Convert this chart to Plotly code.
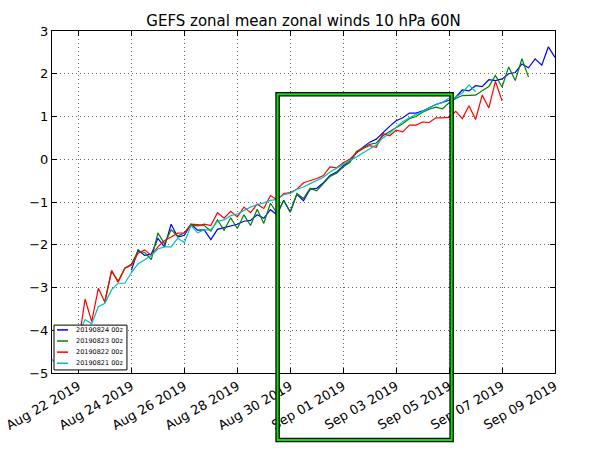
"""GEFS zonal mean zonal winds at 10 hPa / 60N, four forecast runs (6-hourly)."""
import pandas as pd
import plotly.graph_objects as go

# ── Data (6-hourly steps) ────────────────────────────────────────────────────
run_labels = ["20190824 00z", "20190823 00z", "20190822 00z", "20190821 00z"]
run_starts = ["2019-08-24", "2019-08-23", "2019-08-22", "2019-08-21"]
run_colors = ["#0000ff", "#008000", "#ff0000", "#00bfbf"]

u_0824 = [
    -2.6, -2.12, -2.25, -2.22, -1.85, -2.05, -1.52, -1.82, -1.78, -1.52, -1.66, -1.65, -1.88,
    -1.64, -1.6, -1.56, -1.52, -1.45, -1.43, -1.3, -1.38, -1.18, -1.3, -0.96, -1.23,
    -0.82, -0.97, -0.7, -0.68, -0.55, -0.38, -0.3, -0.15, -0.05, 0.15, 0.28, 0.4,
    0.47, 0.63, 0.77, 0.9, 0.97, 1.08, 1.08, 1.13, 1.2, 1.28, 1.33, 1.38,
    1.45, 1.62, 1.6, 1.72, 1.7, 1.86, 1.84, 1.88, 2.0, 2.03, 2.23, 2.14,
    2.35, 2.2, 2.63, 2.38,
]
u_0823 = [
    -3.3, -2.62, -2.85, -2.55, -2.45, -2.15, -2.18, -2.35, -1.72, -1.98, -1.65, -1.8, -1.72,
    -1.52, -1.53, -1.55, -1.68, -1.42, -1.66, -1.37, -1.62, -1.3, -1.55, -1.17, -1.5,
    -1.03, -1.26, -0.97, -1.24, -0.8, -0.92, -0.68, -0.74, -0.56, -0.4, -0.33, -0.18,
    -0.07, 0.18, 0.27, 0.35, 0.38, 0.55, 0.65, 0.74, 0.83, 0.95, 1.0, 1.1,
    1.17, 1.22, 1.18, 1.32, 1.42, 1.49, 1.49, 1.5, 1.6, 1.7, 1.96, 1.69,
    2.16, 1.84, 2.35, 1.92,
]
u_0822 = [
    -4.3, -3.27, -3.8, -3.02, -3.35, -2.6, -2.88, -2.55, -2.48, -2.2, -2.12, -2.25, -2.05,
    -1.9, -1.82, -1.73, -1.72, -1.54, -1.56, -1.52, -1.55, -1.25, -1.38, -1.22, -1.35,
    -1.12, -1.25, -1.05, -1.15, -0.85, -0.95, -0.8, -0.78, -0.7, -0.55, -0.5, -0.45,
    -0.38, -0.18, -0.2, -0.08, 0.0, 0.15, 0.25, 0.32, 0.28, 0.6, 0.55, 0.68,
    0.64, 0.8, 0.8, 0.87, 0.86, 0.97, 0.97, 0.98, 1.12, 0.95, 1.25, 0.93,
    1.5, 1.2, 1.82, 1.37,
]
u_0821 = [
    -4.68, -4.85, -4.6, -4.3, -4.1, -3.75, -3.85, -3.45, -3.37, -3.05, -2.9, -2.9, -2.65,
    -2.45, -2.35, -2.25, -2.1, -2.05, -2.05, -1.85, -1.95, -1.55, -1.72, -1.65, -1.65,
    -1.45, -1.42, -1.32, -1.28, -1.2, -1.12, -1.06, -1.02, -0.96, -0.94, -0.83, -0.8,
    -0.7, -0.65, -0.57, -0.5, -0.42, -0.3, -0.2, -0.12, -0.03, 0.05, 0.15, 0.25,
    0.33, 0.5, 0.6, 0.75, 0.88, 0.97, 1.04, 1.12, 1.2, 1.28, 1.33, 1.43,
    1.45, 1.55, 1.74, 1.58,
]
run_values = [u_0824, u_0823, u_0822, u_0821]

x_range = ["2019-08-21", "2019-09-09"]
y_range = [-5, 3]

FONT = "DejaVu Sans, sans-serif"

fig = go.Figure()
for label, start, color, vals in zip(run_labels, run_starts, run_colors, run_values):
    times = pd.date_range(start, periods=len(vals), freq="6h")
    fig.add_trace(go.Scatter(
        x=times, y=vals, mode="lines", name=label,
        line=dict(color=color, width=1.2), showlegend=False,
    ))

# ── Compact matplotlib-style legend (plotly's own has a tall minimum row) ────
fig.add_shape(
    type="rect", xref="paper", yref="paper",
    x0=0.004, x1=0.149, y0=0.009, y1=0.14,
    line=dict(color="black", width=1), fillcolor="white", layer="above",
)
for k, (label, color) in enumerate(zip(run_labels, run_colors)):
    yk = 0.126 - k * 0.0325
    fig.add_shape(
        type="line", xref="paper", yref="paper",
        x0=0.01, x1=0.032, y0=yk, y1=yk,
        line=dict(color=color, width=1.5), layer="above",
    )
    fig.add_annotation(
        text=label, xref="paper", yref="paper", x=0.043, y=yk,
        xanchor="left", yanchor="middle", showarrow=False,
        font=dict(family=FONT, size=6.5, color="black"),
    )

# ── Highlight box (drawn in paper coords, spills below the axes) ─────────────
for col, w in (("black", 4.5), ("#00e600", 2)):
    fig.add_shape(
        type="rect", xref="paper", yref="paper",
        x0=0.4485, x1=0.7945, y0=-0.196, y1=0.815,
        line=dict(color=col, width=w), layer="above",
    )

axis_common = dict(
    showline=True, linecolor="black", linewidth=1, mirror="ticks",
    ticks="inside", ticklen=5, tickcolor="black", automargin=False,
    ticklabeloverflow="allow",
    showgrid=True, gridcolor="rgba(0,0,0,0.6)", griddash="1px,3px", gridwidth=1,
    zeroline=False, tickfont=dict(family=FONT, size=13, color="black"),
)

fig.update_layout(
    width=594, height=461,
    margin=dict(l=52, r=39, t=31, b=88),
    paper_bgcolor="white", plot_bgcolor="white",
    font=dict(family=FONT, color="black"),
    title=dict(
        text="GEFS zonal mean zonal winds 10 hPa 60N",
        x=0.511, xanchor="center", y=0.955, yanchor="middle",
        font=dict(family=FONT, size=15, color="black"),
    ),
    xaxis=dict(
        type="date", range=x_range, tick0="2019-08-22", dtick=2 * 86400000,
        tickformat="%b %d %Y", tickangle=-30, **axis_common,
    ),
    yaxis=dict(range=y_range, dtick=1, **axis_common),
    showlegend=False,
)

# drop the default 8px body margin so the figure sits at the page corner
fig.write_html(
    "out.html",
    config={"displayModeBar": False},
    post_script="document.body.style.margin = '0';",
)
